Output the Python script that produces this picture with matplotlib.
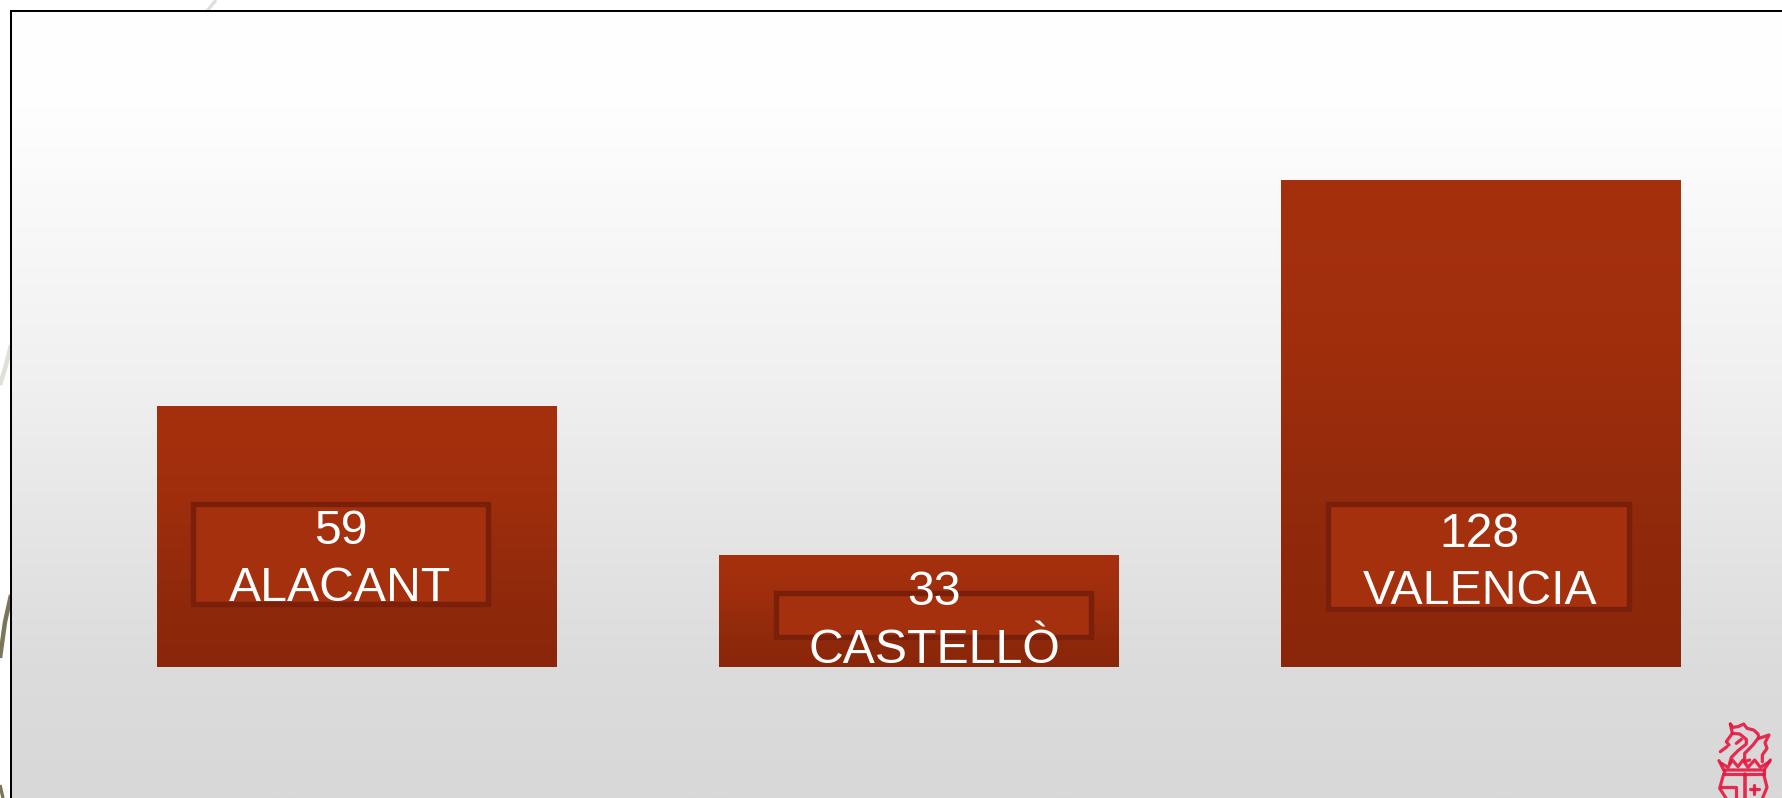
import numpy as np
import matplotlib
matplotlib.use("Agg")
import matplotlib.pyplot as plt
from matplotlib.colors import LinearSegmentedColormap
from matplotlib.patches import Rectangle

# Data
categories = ["ALACANT", "CASTELLÒ", "VALENCIA"]
value_labels = [59, 33, 128]
bar_heights = [261, 112, 487]   # drawn heights (the bars are not proportional to the labels)

W, H = 1783, 798
plt.rcParams["font.family"] = ["Liberation Sans", "DejaVu Sans"]
fig = plt.figure(figsize=(W / 100, H / 100), dpi=100, facecolor="white")

def px_axes(x0, y0, x1, y1, **kw):
    return fig.add_axes([x0 / W, 1 - y1 / H, (x1 - x0) / W, (y1 - y0) / H], **kw)

# Decoration behind the panel
deco = px_axes(0, 0, W, H, zorder=0)
deco.set_xlim(0, W); deco.set_ylim(H, 0); deco.axis("off")
deco.plot([216, 207], [0, 11], color="#dedfd8", lw=2.4, solid_capstyle="butt")
deco.plot([11, 6, 0], [345, 365, 385], color="#e0e0d8", lw=3.2, solid_capstyle="butt")
deco.plot([11, 5, 0], [595, 622, 658], color="#7b7659", lw=3.2, solid_capstyle="butt")
deco.plot([0, 3], [785, 798], color="#7b7659", lw=2.4, solid_capstyle="butt")

# Panel with vertical grey gradient
panel_left, panel_top, baseline = 11, 11, 667
ax = px_axes(panel_left, panel_top, W, H, zorder=1)
bg = LinearSegmentedColormap.from_list(
    "bg", [(0, "#ffffff"), (0.12, "#fefefe"), (0.45, "#f1f1f1"), (0.83, "#dcdcdc"), (1, "#d8d8d8")])
ax.imshow(np.linspace(0, 1, 400)[:, None], cmap=bg, aspect="auto",
          extent=(0, 1, 0, 1), transform=ax.transAxes, zorder=0)

# Bars
x = np.arange(len(categories))
ax.set_xlim((panel_left - 357) / 562, (W - 357) / 562)
ax.set_ylim(-(H - baseline), baseline - panel_top)
bars = ax.bar(x, bar_heights, width=400 / 562, color="#952b0c", linewidth=0, zorder=2)
grad = LinearSegmentedColormap.from_list("bar", ["#a5300e", "#a02e0d", "#922a0c", "#8a260a"])
xl, yl = ax.get_xlim(), ax.get_ylim()
for b in bars:
    im = ax.imshow(np.linspace(0, 1, 256)[:, None], cmap=grad, aspect="auto", zorder=3,
                   extent=(b.get_x(), b.get_x() + b.get_width(), 0, b.get_height()))
    im.set_clip_path(b)
ax.set_xlim(xl); ax.set_ylim(yl)
ax.set_xticks([]); ax.set_yticks([])
for s in ("right", "bottom"):
    ax.spines[s].set_visible(False)
for s in ("left", "top"):
    ax.spines[s].set_linewidth(1.45)
    ax.spines[s].set_color("#000000")

# Overlay in pixel coordinates: label boxes, labels, emblem
ov = px_axes(0, 0, W, H, zorder=3)
ov.set_xlim(0, W); ov.set_ylim(H, 0); ov.axis("off"); ov.patch.set_alpha(0)

boxes = [(191, 501, 491, 606), (774, 590, 1094, 639), (1326, 501, 1632, 611)]
text_x = [340.5, 934, 1480]
value_base = [544.5, 605, 547]
name_base = [601, 663, 604]
for (x0, y0, x1, y1), tx, vb, nb, name, val in zip(boxes, text_x, value_base, name_base,
                                                   categories, value_labels):
    ov.add_patch(Rectangle((x0 + 2.5, y0 + 2.5), x1 - x0 - 5, y1 - y0 - 5, facecolor="#a5300e",
                           edgecolor="#7a1f0a", linewidth=3.9, joinstyle="miter"))
    ov.text(tx, vb, str(val), color="white", fontsize=34.7, ha="center", va="baseline")
    ov.text(tx, nb, name, color="white", fontsize=34.7, ha="center", va="baseline")

# Emblem, bottom right corner (pixel positions from a 3x crop at 1703,710)
def emblem(points, lw=2.3):
    p = np.array(points, dtype=float)
    ov.plot(1703 + p[:, 0] / 3, 710 + p[:, 1] / 3, color="#e8173f", lw=lw, alpha=.9,
            solid_capstyle="round", solid_joinstyle="round", clip_on=True)

emblem([(82, 42), (90, 52), (105, 50), (122, 42), (132, 55), (152, 60), (165, 72), (168, 85),
        (198, 75), (186, 98), (192, 115), (178, 135), (178, 155)])
emblem([(82, 42), (88, 70), (70, 95), (78, 105)])
emblem([(88, 70), (110, 72), (130, 88), (130, 102), (105, 122), (85, 142), (80, 160)])
emblem([(100, 100), (115, 88)])
emblem([(165, 85), (150, 105), (125, 130), (125, 155), (140, 150)])
emblem([(52, 125), (72, 110)])
emblem([(48, 152), (62, 180), (183, 180), (202, 150)])
emblem([(55, 160), (75, 172), (88, 150), (105, 170), (120, 150), (135, 172), (155, 150), (172, 172), (200, 155)])
emblem([(62, 180), (62, 192), (182, 192), (182, 180)])
emblem([(62, 192), (50, 235), (70, 266)])
emblem([(182, 192), (192, 232), (178, 266)])
emblem([(125, 192), (125, 266)], lw=2.6)
emblem([(55, 232), (100, 232), (100, 266)])
emblem([(140, 237), (168, 237)])
emblem([(154, 225), (154, 252)])

fig.savefig("out.png", dpi=100, facecolor="white")
